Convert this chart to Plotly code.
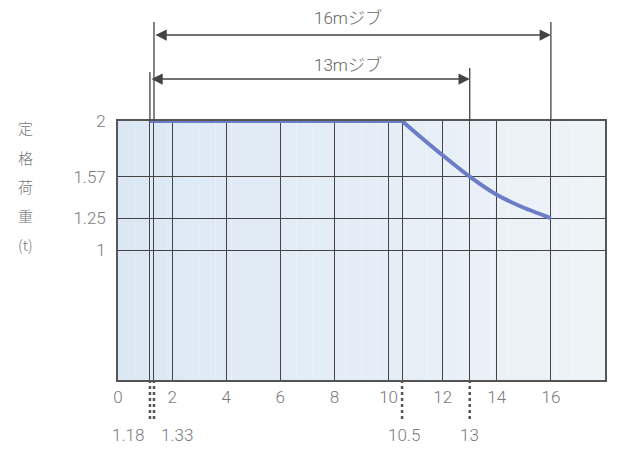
import plotly.graph_objects as go

# data
flat_radius = [1.18, 10.5]
flat_load = [2.0, 2.0]
curve_radius = [10.5, 11, 12, 13, 14, 15, 16]
curve_load = [2.0, 1.91, 1.735, 1.57, 1.43, 1.33, 1.25]

x_grid = [0, 1.18, 1.33, 2, 4, 6, 8, 10, 10.5, 12, 13, 14, 16]
x_labels = ['0', '', '', '2', '4', '6', '8', '10', '', '12', '', '14', '16']
y_ticks = [1, 1.25, 1.57, 2]
y_labels = ['1', '1.25', '1.57', '2']

marked_x = [1.18, 1.33, 10.5, 13]
marked_text = ['1.18', '1.33', '10.5', '13']
marked_shift = [-22, 23, 2, 0]

jib_names = ['16mジブ', '13mジブ']
jib_start = [1.33, 1.18]
jib_end = [16, 13]
jib_label_x = [8.5, 8.5]

y_title_chars = ['定', '格', '荷', '重', '(t)']

FONT = "Roboto, sans-serif"
JFONT = "Noto Sans CJK JP, sans-serif"
GRID = '#444444'
TXT = '#7a7a7a'

# page geometry (browser body has an 8px margin)
OFF = 8
W, H = 619 - OFF, 450 - OFF
PL, PR, PT, PB = 118, 605, 121, 380   # plot box in page pixels
pw, ph = PR - PL, PB - PT


def py(pix):
    return 1 + (PT - pix) / ph


def px_(pix):
    return (pix - PL) / pw


fig = go.Figure()
line_style = dict(color='#6a7dc6', width=4)
fig.add_trace(go.Scatter(x=flat_radius, y=flat_load, mode='lines', line=line_style,
                         hoverinfo='skip', showlegend=False, cliponaxis=False))
fig.add_trace(go.Scatter(x=curve_radius, y=curve_load, mode='lines',
                         line=dict(shape='spline', smoothing=0.5, **line_style),
                         hoverinfo='skip', showlegend=False, cliponaxis=False))

shapes = []
annotations = []

# soft blue-to-white background gradient of the plot box
c0 = (219, 232, 244)
c1 = (238, 243, 248)
n = 30
for i in range(n):
    t = i / (n - 1)
    col = 'rgb(%d,%d,%d)' % tuple(round(a + (b - a) * t) for a, b in zip(c0, c1))
    shapes.append(dict(type='rect', xref='paper', yref='paper', x0=i / n, x1=(i + 1) / n,
                       y0=0, y1=1, fillcolor=col, line=dict(width=0), layer='below'))

# dotted leader lines below the axis + labels
for xv, txt, sh in zip(marked_x, marked_text, marked_shift):
    shapes.append(dict(type='line', xref='x', yref='paper', x0=xv, x1=xv,
                       y0=0, y1=py(421), line=dict(color='#555', width=2.5, dash='dot')))
    annotations.append(dict(x=xv, y=py(435), xref='x', yref='paper', text=txt,
                            showarrow=False, xshift=sh, xanchor='center', yanchor='middle',
                            font=dict(family=FONT, size=17, color=TXT, weight=300)))

# jib dimension lines
arrow_y = [35, 79]
ext_top = [[22, 22], [72, 68]]
label_y = [18, 65]
for name, x0, x1, ay_, et, ly, lx in zip(jib_names, jib_start, jib_end, arrow_y,
                                          ext_top, label_y, jib_label_x):
    for xv, top in zip((x0, x1), et):
        shapes.append(dict(type='line', xref='x', yref='paper', x0=xv, x1=xv,
                           y0=1, y1=py(top), line=dict(color='#444', width=1.3)))
    annotations.append(dict(x=x1, y=py(ay_), ax=x0, ay=py(ay_), xref='x', yref='y domain',
                            axref='x', ayref='y domain', text='', showarrow=True,
                            arrowhead=2, startarrowhead=2, arrowside='end+start',
                            arrowsize=1.5, startarrowsize=1.5, arrowwidth=1.5,
                            arrowcolor='#444'))
    annotations.append(dict(x=lx, y=py(ly), xref='x', yref='paper',
                            text=name, showarrow=False, xanchor='center', yanchor='middle',
                            font=dict(family=FONT + ', ' + JFONT, size=17, color='#666',
                                      weight=300)))

# vertical y-axis title
for i, ch in enumerate(y_title_chars):
    annotations.append(dict(x=px_(25), y=py(128 + i * 29), xref='paper', yref='paper',
                            text=ch, showarrow=False, xanchor='center', yanchor='middle',
                            font=dict(family=JFONT, size=15, color='#777')))

fig.update_layout(
    width=W, height=H,
    margin=dict(l=PL - OFF, r=W - (PR - OFF), t=PT - OFF, b=H - (PB - OFF)),
    paper_bgcolor='white', plot_bgcolor='rgba(0,0,0,0)',
    shapes=shapes, annotations=annotations,
    font=dict(family=FONT, size=17, color=TXT, weight=300),
    xaxis=dict(range=[0, 18], tickvals=x_grid, ticktext=x_labels, showgrid=True,
               gridcolor=GRID, gridwidth=1.2, zeroline=False, showline=True,
               mirror=True, linecolor='#555', linewidth=1.6, ticks='',
               ticklabelstandoff=1, fixedrange=True,
               tickfont=dict(family=FONT, size=17, color=TXT, weight=300)),
    yaxis=dict(range=[0, 2], tickvals=y_ticks, ticktext=y_labels, showgrid=True,
               gridcolor=GRID, gridwidth=1.2, zeroline=False, showline=True,
               mirror=True, linecolor='#555', linewidth=1.6, ticks='',
               ticklabelstandoff=7, fixedrange=True,
               tickfont=dict(family=FONT, size=17, color=TXT, weight=300)),
)

fig.write_html("out.html")
